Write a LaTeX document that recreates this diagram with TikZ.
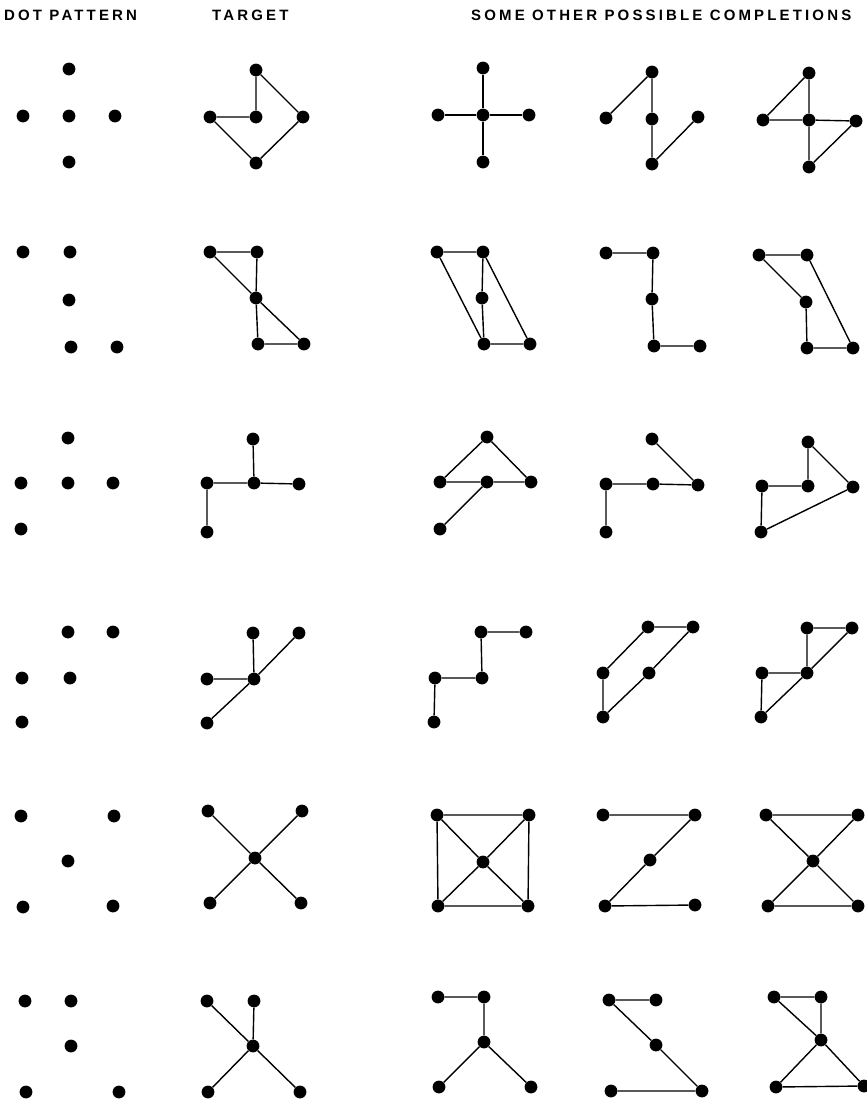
\documentclass[tikz,border=0pt]{standalone}
\usepackage{fontspec}
\newfontfamily\hdrfont[LetterSpace=21]{Liberation Sans}
\begin{document}
\begin{tikzpicture}[x=1pt,y=-1pt,
  dot/.style={circle,fill=black,inner sep=0pt,minimum size=12.8pt},
  ln/.style={line width=1.4pt,black},
  hdr/.style={anchor=base west,inner sep=0pt,font=\hdrfont\bfseries\fontsize{15pt}{17pt}\selectfont}]
\useasboundingbox (0,0) rectangle (867,1101);
% headers
\node[hdr] (h1) at (4,20) {DOT PATTERN};
\node[hdr] (h2) at (212,20) {TARGET};
\node[hdr] (h3) at (471,20) {SOME OTHER POSSIBLE COMPLETIONS};

% ---------- Row 1 ----------
\node[dot] (p1a) at (69,69) {};
\node[dot] (p1b) at (23,116) {};
\node[dot] (p1c) at (69,116) {};
\node[dot] (p1d) at (115,116) {};
\node[dot] (p1e) at (69,162) {};
% target
\node[dot] (t1t) at (256,70) {};
\node[dot] (t1l) at (210,117) {};
\node[dot] (t1c) at (256,117) {};
\node[dot] (t1r) at (303,117) {};
\node[dot] (t1b) at (256,163) {};
\draw[ln] (t1t) -- (t1c) (t1l) -- (t1c) (t1t) -- (t1r) (t1l) -- (t1b) (t1b) -- (t1r);
% c1
\node[dot] (a1t) at (483,68) {};
\node[dot] (a1l) at (438,115) {};
\node[dot] (a1c) at (483,115) {};
\node[dot] (a1r) at (529,115) {};
\node[dot] (a1b) at (483,162) {};
\draw[ln] (a1c) -- (a1t) (a1c) -- (a1l) (a1c) -- (a1r) (a1c) -- (a1b);
% c2
\node[dot] (b1t) at (652,72) {};
\node[dot] (b1l) at (606,118) {};
\node[dot] (b1c) at (652,119) {};
\node[dot] (b1r) at (698,117) {};
\node[dot] (b1b) at (652,164) {};
\draw[ln] (b1l) -- (b1t) (b1t) -- (b1c) (b1c) -- (b1b) (b1b) -- (b1r);
% c3
\node[dot] (c1t) at (809,73) {};
\node[dot] (c1l) at (763,120) {};
\node[dot] (c1c) at (809,120) {};
\node[dot] (c1r) at (856,121) {};
\node[dot] (c1b) at (809,167) {};
\draw[ln] (c1l) -- (c1t) (c1t) -- (c1c) (c1l) -- (c1c) (c1c) -- (c1r) (c1c) -- (c1b) (c1r) -- (c1b);

% ---------- Row 2 ----------
\node[dot] (p2a) at (23,252) {};
\node[dot] (p2b) at (70,252) {};
\node[dot] (p2c) at (69,300) {};
\node[dot] (p2d) at (71,347) {};
\node[dot] (p2e) at (117,347) {};
% target
\node[dot] (t2tl) at (210,252) {};
\node[dot] (t2tr) at (257,252) {};
\node[dot] (t2m) at (256,298) {};
\node[dot] (t2bl) at (258,344) {};
\node[dot] (t2br) at (304,344) {};
\draw[ln] (t2tl) -- (t2tr) (t2tr) -- (t2m) (t2m) -- (t2bl) (t2bl) -- (t2br) (t2tl) -- (t2m) (t2m) -- (t2br);
% c1
\node[dot] (a2tl) at (437,252) {};
\node[dot] (a2tr) at (483,252) {};
\node[dot] (a2m) at (482,298) {};
\node[dot] (a2bl) at (484,344) {};
\node[dot] (a2br) at (530,344) {};
\draw[ln] (a2tl) -- (a2tr) (a2tr) -- (a2m) (a2m) -- (a2bl) (a2bl) -- (a2br) (a2tl) -- (a2bl) (a2tr) -- (a2br);
% c2
\node[dot] (b2tl) at (606,253) {};
\node[dot] (b2tr) at (653,253) {};
\node[dot] (b2m) at (652,299) {};
\node[dot] (b2bl) at (654,346) {};
\node[dot] (b2br) at (700,346) {};
\draw[ln] (b2tl) -- (b2tr) (b2tr) -- (b2m) (b2m) -- (b2bl) (b2bl) -- (b2br);
% c3
\node[dot] (c2tl) at (759,255) {};
\node[dot] (c2tr) at (807,255) {};
\node[dot] (c2m) at (806,302) {};
\node[dot] (c2bl) at (807,348) {};
\node[dot] (c2br) at (853,348) {};
\draw[ln] (c2tl) -- (c2tr) (c2tl) -- (c2m) (c2m) -- (c2bl) (c2bl) -- (c2br) (c2tr) -- (c2br);

% ---------- Row 3 ----------
\node[dot] (p3a) at (68,438) {};
\node[dot] (p3b) at (21,483) {};
\node[dot] (p3c) at (68,483) {};
\node[dot] (p3d) at (113,483) {};
\node[dot] (p3e) at (21,529) {};
% target
\node[dot] (t3t) at (253,439) {};
\node[dot] (t3l) at (207,483) {};
\node[dot] (t3c) at (254,483) {};
\node[dot] (t3r) at (299,484) {};
\node[dot] (t3b) at (207,532) {};
\draw[ln] (t3t) -- (t3c) (t3l) -- (t3c) (t3c) -- (t3r) (t3l) -- (t3b);
% c1
\node[dot] (a3t) at (487,437) {};
\node[dot] (a3l) at (440,482) {};
\node[dot] (a3c) at (487,482) {};
\node[dot] (a3r) at (531,482) {};
\node[dot] (a3b) at (440,529) {};
\draw[ln] (a3l) -- (a3t) (a3t) -- (a3r) (a3l) -- (a3c) (a3c) -- (a3r) (a3c) -- (a3b);
% c2
\node[dot] (b3t) at (652,439) {};
\node[dot] (b3l) at (606,484) {};
\node[dot] (b3c) at (653,484) {};
\node[dot] (b3r) at (698,485) {};
\node[dot] (b3b) at (606,532) {};
\draw[ln] (b3t) -- (b3r) (b3l) -- (b3c) (b3c) -- (b3r) (b3l) -- (b3b);
% c3
\node[dot] (c3t) at (808,442) {};
\node[dot] (c3l) at (762,486) {};
\node[dot] (c3c) at (808,486) {};
\node[dot] (c3r) at (853,487) {};
\node[dot] (c3b) at (761,532) {};
\draw[ln] (c3t) -- (c3c) (c3t) -- (c3r) (c3l) -- (c3c) (c3l) -- (c3b) (c3b) -- (c3r);

% ---------- Row 4 ----------
\node[dot] (p4a) at (68,632) {};
\node[dot] (p4b) at (113,632) {};
\node[dot] (p4c) at (22,678) {};
\node[dot] (p4d) at (70,678) {};
\node[dot] (p4e) at (22,722) {};
% target
\node[dot] (t4tl) at (253,633) {};
\node[dot] (t4tr) at (299,633) {};
\node[dot] (t4l) at (207,679) {};
\node[dot] (t4c) at (254,679) {};
\node[dot] (t4b) at (207,723) {};
\draw[ln] (t4tl) -- (t4c) (t4l) -- (t4c) (t4tr) -- (t4c) (t4c) -- (t4b);
% c1
\node[dot] (a4tl) at (481,632) {};
\node[dot] (a4tr) at (526,632) {};
\node[dot] (a4l) at (435,678) {};
\node[dot] (a4c) at (482,678) {};
\node[dot] (a4b) at (434,722) {};
\draw[ln] (a4tl) -- (a4tr) (a4tl) -- (a4c) (a4l) -- (a4c) (a4l) -- (a4b);
% c2
\node[dot] (b4tl) at (648,627) {};
\node[dot] (b4tr) at (693,627) {};
\node[dot] (b4l) at (603,673) {};
\node[dot] (b4c) at (649,673) {};
\node[dot] (b4b) at (603,717) {};
\draw[ln] (b4tl) -- (b4tr) (b4l) -- (b4tl) (b4l) -- (b4b) (b4b) -- (b4c) (b4c) -- (b4tr);
% c3
\node[dot] (c4tl) at (807,628) {};
\node[dot] (c4tr) at (852,628) {};
\node[dot] (c4l) at (762,673) {};
\node[dot] (c4c) at (807,673) {};
\node[dot] (c4b) at (761,717) {};
\draw[ln] (c4tl) -- (c4tr) (c4tl) -- (c4c) (c4l) -- (c4c) (c4l) -- (c4b) (c4b) -- (c4c) (c4c) -- (c4tr);

% ---------- Row 5 ----------
\node[dot] (p5a) at (21,816) {};
\node[dot] (p5b) at (114,816) {};
\node[dot] (p5c) at (68,861) {};
\node[dot] (p5d) at (23,907) {};
\node[dot] (p5e) at (113,906) {};
% target
\node[dot] (t5tl) at (208,811) {};
\node[dot] (t5tr) at (302,811) {};
\node[dot] (t5c) at (255,858) {};
\node[dot] (t5bl) at (210,903) {};
\node[dot] (t5br) at (301,903) {};
\draw[ln] (t5c) -- (t5tl) (t5c) -- (t5tr) (t5c) -- (t5bl) (t5c) -- (t5br);
% c1
\node[dot] (a5tl) at (437,815) {};
\node[dot] (a5tr) at (529,815) {};
\node[dot] (a5c) at (483,862) {};
\node[dot] (a5bl) at (438,906) {};
\node[dot] (a5br) at (528,906) {};
\draw[ln] (a5tl) -- (a5tr) (a5tr) -- (a5br) (a5br) -- (a5bl) (a5bl) -- (a5tl)
  (a5c) -- (a5tl) (a5c) -- (a5tr) (a5c) -- (a5bl) (a5c) -- (a5br);
% c2
\node[dot] (b5tl) at (603,815) {};
\node[dot] (b5tr) at (695,815) {};
\node[dot] (b5c) at (650,860) {};
\node[dot] (b5bl) at (605,906) {};
\node[dot] (b5br) at (695,905) {};
\draw[ln] (b5tl) -- (b5tr) (b5tr) -- (b5c) (b5c) -- (b5bl) (b5bl) -- (b5br);
% c3
\node[dot] (c5tl) at (766,815) {};
\node[dot] (c5tr) at (858,815) {};
\node[dot] (c5c) at (813,861) {};
\node[dot] (c5bl) at (768,906) {};
\node[dot] (c5br) at (858,906) {};
\draw[ln] (c5tl) -- (c5tr) (c5tl) -- (c5c) (c5tr) -- (c5c) (c5c) -- (c5bl) (c5c) -- (c5br) (c5bl) -- (c5br);

% ---------- Row 6 ----------
\node[dot] (p6a) at (25,1001) {};
\node[dot] (p6b) at (71,1001) {};
\node[dot] (p6c) at (71,1046) {};
\node[dot] (p6d) at (26,1092) {};
\node[dot] (p6e) at (119,1092) {};
% target
\node[dot] (t6tl) at (207,1001) {};
\node[dot] (t6tr) at (254,1001) {};
\node[dot] (t6c) at (253,1046) {};
\node[dot] (t6bl) at (208,1092) {};
\node[dot] (t6br) at (300,1092) {};
\draw[ln] (t6tl) -- (t6c) (t6tr) -- (t6c) (t6c) -- (t6bl) (t6c) -- (t6br);
% c1
\node[dot] (a6tl) at (438,997) {};
\node[dot] (a6tr) at (484,997) {};
\node[dot] (a6c) at (484,1042) {};
\node[dot] (a6bl) at (439,1087) {};
\node[dot] (a6br) at (531,1087) {};
\draw[ln] (a6tl) -- (a6tr) (a6tr) -- (a6c) (a6c) -- (a6bl) (a6c) -- (a6br);
% c2
\node[dot] (b6tl) at (609,1000) {};
\node[dot] (b6tr) at (656,1000) {};
\node[dot] (b6c) at (656,1045) {};
\node[dot] (b6bl) at (611,1091) {};
\node[dot] (b6br) at (702,1091) {};
\draw[ln] (b6tl) -- (b6tr) (b6tl) -- (b6c) (b6c) -- (b6br) (b6bl) -- (b6br);
% c3
\node[dot] (c6tl) at (774,997) {};
\node[dot] (c6tr) at (821,997) {};
\node[dot] (c6c) at (821,1040) {};
\node[dot] (c6bl) at (776,1087) {};
\node[dot] (c6br) at (864,1086) {};
\draw[ln] (c6tl) -- (c6tr) (c6tr) -- (c6c) (c6tl) -- (c6c) (c6c) -- (c6bl) (c6c) -- (c6br) (c6bl) -- (c6br);
\end{tikzpicture}
\end{document}
